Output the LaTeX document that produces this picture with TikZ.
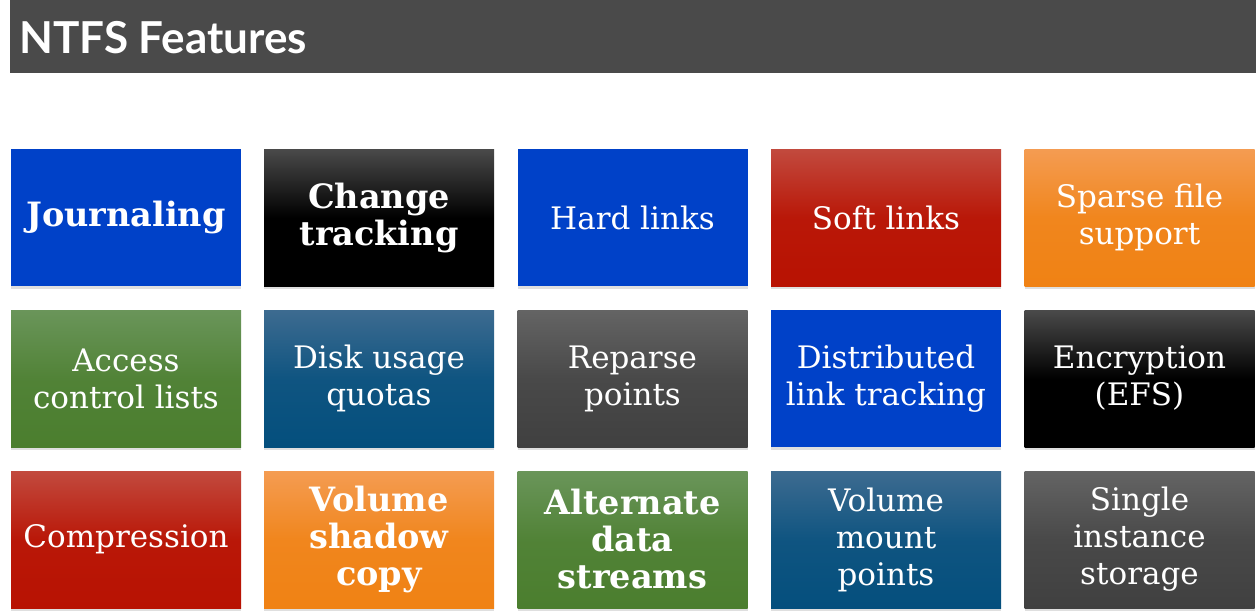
\documentclass[tikz,border=0pt]{standalone}
\usepackage{fontspec}
\setmainfont{DejaVu Serif}
\newfontfamily\titlefont{Lato}
\usetikzlibrary{shadows}

% box colours
\definecolor{bargray}{HTML}{4A4A4A}
\definecolor{flatblue}{HTML}{0041C8}
\definecolor{redtop}{HTML}{C24A3E}
\definecolor{redbot}{HTML}{B81202}
\definecolor{orgtop}{HTML}{F49C52}
\definecolor{orgbot}{HTML}{F08214}
\definecolor{grntop}{HTML}{6A955A}
\definecolor{grnbot}{HTML}{4B7E2E}
\definecolor{tealtop}{HTML}{3D6B90}
\definecolor{tealbot}{HTML}{044F7D}
\definecolor{graytop}{HTML}{646464}
\definecolor{graybot}{HTML}{404040}
\definecolor{blktop}{HTML}{4A4A4A}

\tikzset{
  feat/.style={minimum width=230pt, minimum height=137pt, inner sep=0pt,
    text=white, align=center, font=\fontsize{31}{37}\selectfont,
    drop shadow={opacity=0.25, shadow xshift=0pt, shadow yshift=-3pt}},
  boldfeat/.style={feat, font=\fontsize{33.5}{37}\selectfont\bfseries},
  blue/.style={fill=flatblue},
  red/.style={top color=redtop, bottom color=redbot, middle color=redbot!90!redtop},
  orange/.style={top color=orgtop, bottom color=orgbot, middle color=orgbot!85!orgtop},
  green/.style={top color=grntop, bottom color=grnbot, middle color=grnbot!80!grntop},
  teal/.style={top color=tealtop, bottom color=tealbot, middle color=tealbot!80!tealtop},
  gray/.style={top color=graytop, bottom color=graybot, middle color=graybot!75!graytop},
  black/.style={top color=blktop, bottom color=black, middle color=black},
}

\begin{document}
\begin{tikzpicture}[x=1pt, y=-1pt]
\useasboundingbox (0,0) rectangle (1259,613);

% title bar
\node[fill=bargray, minimum width=1246pt, minimum height=73pt, inner sep=0pt, anchor=north west] (bar) at (10,0) {};
\node[anchor=west, text=white, font=\titlefont\bfseries\fontsize{44}{48}\selectfont, inner sep=0pt] (title) at (19,38) {NTFS Features};

% row 1
\node[boldfeat, blue]  (r1c1) at (126,217.5)  {Journaling};
\node[boldfeat, black] (r1c2) at (379,217.5)  {Change\\tracking};
\node[feat, blue]      (r1c3) at (632.5,217.5) {Hard links};
\node[feat, red]       (r1c4) at (886,217.5)  {Soft links};
\node[feat, orange]    (r1c5) at (1139.5,217.5) {Sparse file\\support};

% row 2
\node[feat, green] (r2c1) at (126,378.5)  {Access\\control lists};
\node[feat, teal]  (r2c2) at (379,378.5)  {Disk usage\\quotas};
\node[feat, gray]  (r2c3) at (632.5,378.5) {Reparse\\points};
\node[feat, blue]  (r2c4) at (886,378.5)  {Distributed\\link tracking};
\node[feat, black] (r2c5) at (1139.5,378.5) {Encryption\\(EFS)};

% row 3
\node[feat, red]         (r3c1) at (126,539.5)  {Compression};
\node[boldfeat, orange]  (r3c2) at (379,539.5)  {Volume\\shadow\\copy};
\node[boldfeat, green]   (r3c3) at (632.5,539.5) {Alternate\\data\\streams};
\node[feat, teal]        (r3c4) at (886,539.5)  {Volume\\mount\\points};
\node[feat, gray]        (r3c5) at (1139.5,539.5) {Single\\instance\\storage};
\end{tikzpicture}
\end{document}
